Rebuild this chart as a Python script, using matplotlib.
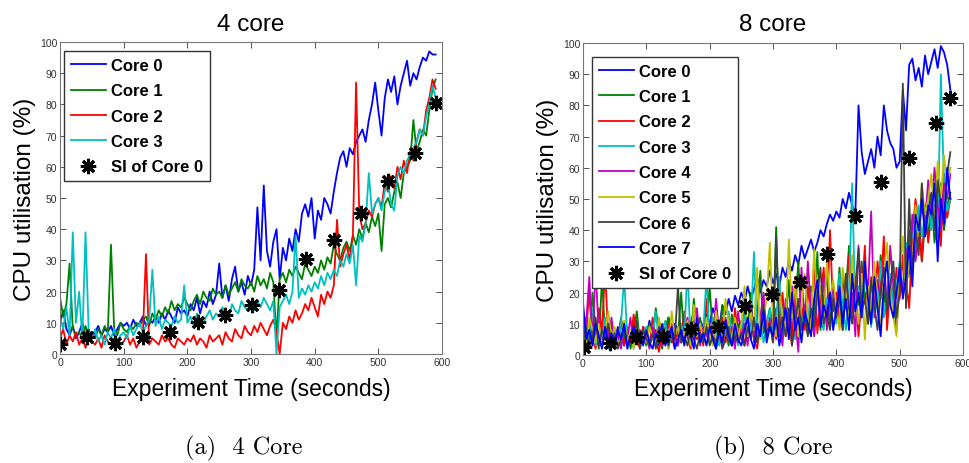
import matplotlib
matplotlib.use("Agg")
import matplotlib.pyplot as plt
import numpy as np

# sample times (s)
t4 = np.arange(0, 595, 5)
t8 = np.arange(0, 585, 5)

# ---- 4 core run: CPU utilisation (%) per core ----
core4_0 = [10, 14, 8, 6, 9, 5, 7, 10, 6, 8,
           5, 7, 9, 6, 8, 7, 9, 6, 8, 10,
           9, 10, 8, 11, 9, 10, 12, 9, 11, 10,
           12, 10, 13, 11, 14, 12, 10, 15, 13, 14,
           12, 16, 14, 18, 13, 17, 15, 20, 16, 19,
           29, 18, 22, 17, 24, 28, 20, 23, 19, 25,
           22, 27, 47, 30, 54, 33, 28, 36, 40, 24,
           34, 30, 37, 33, 40, 36, 45, 48, 44, 50,
           37, 46, 43, 50, 48, 45, 52, 58, 63, 65,
           60, 66, 64, 68, 70, 72, 68, 75, 80, 87,
           78, 70, 82, 88, 84, 89, 80, 86, 90, 94,
           86, 90, 88, 92, 95, 94, 97, 96, 96]
core4_1 = [18, 12, 16, 29, 8, 6, 7, 5, 9, 6,
           7, 5, 8, 6, 9, 7, 35, 8, 6, 10,
           8, 7, 9, 8, 10, 9, 11, 12, 9, 13,
           11, 14, 12, 15, 13, 17, 14, 16, 15, 18,
           16, 14, 17, 19, 16, 20, 18, 17, 21, 19,
           20, 18, 22, 19, 21, 23, 20, 24, 22, 21,
           23, 20, 25, 22, 24, 21, 26, 23, 5, 24,
           26, 23, 27, 25, 28, 26, 24, 29, 27, 25,
           28, 26, 30, 27, 31, 29, 35, 32, 30, 34,
           36, 33, 38, 35, 40, 37, 42, 39, 44, 41,
           45, 33, 48, 50, 47, 52, 55, 50, 58, 60,
           62, 75, 65, 68, 72, 70, 78, 85, 88]
core4_2 = [5, 8, 3, 6, 4, 7, 3, 5, 2, 6,
           4, 3, 5, 2, 6, 4, 3, 5, 4, 3,
           4, 6, 3, 5, 2, 4, 6, 32, 3, 5,
           4, 3, 6, 4, 5, 3, 2, 5, 4, 3,
           5, 4, 6, 3, 5, 4, 2, 6, 4, 5,
           6, 3, 7, 5, 4, 8, 6, 5, 9, 7,
           6, 9, 7, 10, 8, 6, 9, 11, 7, 0,
           10, 8, 12, 10, 14, 11, 13, 16, 14, 18,
           15, 12, 19, 16, 20, 18, 22, 43, 28, 32,
           35, 30, 38, 87, 45, 40, 42, 46, 44, 48,
           50, 47, 55, 52, 57, 53, 60, 56, 62, 58,
           65, 62, 68, 72, 70, 78, 82, 88, 85]
core4_3 = [12, 8, 15, 6, 39, 10, 20, 5, 39, 7,
           5, 8, 4, 6, 3, 7, 5, 8, 4, 6,
           7, 5, 9, 6, 8, 10, 7, 9, 11, 27,
           9, 12, 8, 11, 10, 9, 12, 10, 11, 22,
           10, 12, 9, 13, 11, 10, 12, 14, 11, 13,
           12, 15, 13, 11, 16, 14, 13, 17, 15, 14,
           16, 14, 17, 15, 18, 16, 14, 17, 0, 15,
           17, 19, 16, 20, 38, 18, 21, 19, 22, 20,
           23, 21, 25, 22, 26, 24, 27, 25, 30, 28,
           32, 29, 35, 22, 38, 36, 42, 58, 45, 48,
           50, 46, 52, 55, 48, 46, 57, 60, 58, 62,
           64, 66, 68, 72, 70, 76, 80, 86, 82]
si4_t = [0, 43, 87, 130, 173, 216, 259, 301, 344, 387, 430, 472, 515, 557, 590]
si4_v = [3.2, 5.6, 3.5, 5.6, 7, 10.4, 12.5, 15.7, 20.5, 30.5, 36.4, 45.1, 55.3, 64.4, 80.4]

# ---- 8 core run ----
core8_0 = [15, 6, 9, 4, 8, 3, 7, 10, 5, 8,
           4, 9, 6, 3, 8, 5, 10, 7, 4, 9,
           6, 11, 5, 8, 3, 9, 7, 12, 6, 10,
           8, 4, 12, 7, 10, 14, 6, 11, 9, 13,
           10, 15, 12, 8, 16, 13, 18, 14, 19, 16,
           20, 17, 22, 18, 21, 25, 20, 24, 22, 27,
           23, 26, 22, 28, 25, 30, 27, 32, 29, 35,
           31, 34, 37, 33, 36, 40, 38, 42, 45, 43,
           46, 44, 50, 47, 52, 48, 45, 80, 65, 58,
           62, 66, 60, 70, 64, 80, 72, 68, 66, 60,
           62, 85, 72, 93, 95, 88, 92, 86, 96, 90,
           94, 98, 92, 99, 97, 93, 85]
core8_1 = [5, 12, 3, 20, 8, 2, 25, 6, 10, 4,
           8, 3, 12, 5, 9, 2, 7, 14, 4, 6,
           3, 10, 5, 15, 7, 2, 9, 12, 4, 8,
           6, 20, 4, 10, 3, 18, 7, 12, 5, 9,
           22, 6, 11, 4, 16, 8, 3, 13, 6, 10,
           5, 14, 8, 20, 4, 12, 27, 7, 10, 15,
           8, 41, 6, 18, 10, 24, 5, 14, 30, 9,
           16, 7, 22, 12, 33, 8, 18, 26, 10, 20,
           14, 28, 9, 20, 35, 12, 25, 16, 30, 18,
           22, 10, 28, 15, 32, 20, 12, 25, 18, 8,
           24, 30, 19, 40, 28, 35, 45, 30, 42, 38,
           50, 36, 45, 55, 40, 48, 52]
core8_2 = [3, 8, 20, 5, 2, 15, 7, 28, 4, 10,
           2, 6, 11, 3, 8, 4, 13, 5, 2, 9,
           7, 3, 12, 5, 1, 8, 4, 10, 6, 2,
           9, 4, 14, 6, 2, 11, 5, 8, 3, 18,
           5, 10, 2, 7, 12, 4, 9, 3, 15, 6,
           11, 3, 8, 14, 5, 2, 10, 18, 6, 12,
           4, 15, 9, 20, 6, 12, 3, 25, 10, 16,
           8, 22, 12, 30, 7, 18, 28, 10, 40, 14,
           20, 9, 26, 15, 32, 12, 22, 6, 18, 35,
           10, 25, 14, 30, 20, 38, 8, 22, 16, 28,
           18, 32, 24, 15, 38, 50, 42, 30, 48, 36,
           45, 40, 52, 35, 58, 44, 50]
core8_3 = [10, 4, 7, 15, 3, 9, 5, 12, 2, 8,
           6, 3, 10, 25, 5, 8, 2, 11, 4, 7,
           9, 3, 6, 14, 4, 8, 11, 2, 7, 5,
           3, 10, 6, 28, 4, 9, 13, 5, 8, 25,
           4, 12, 7, 3, 10, 6, 14, 5, 9, 3,
           8, 13, 5, 10, 33, 6, 12, 4, 9, 15,
           7, 11, 25, 6, 14, 9, 18, 5, 12, 8,
           15, 10, 20, 6, 24, 12, 8, 18, 14, 22,
           10, 26, 16, 8, 20, 55, 14, 22, 12, 28,
           18, 9, 24, 14, 30, 12, 20, 26, 16, 22,
           30, 20, 36, 25, 42, 32, 48, 38, 45, 52,
           40, 48, 38, 90, 55, 46, 50]
core8_4 = [2, 10, 25, 4, 28, 6, 3, 9, 5, 12,
           4, 7, 2, 9, 5, 12, 3, 6, 8, 4,
           6, 2, 9, 5, 11, 3, 7, 4, 10, 6,
           3, 8, 5, 12, 4, 7, 15, 3, 9, 6,
           10, 4, 18, 7, 3, 12, 6, 9, 2, 14,
           5, 10, 3, 16, 8, 4, 12, 20, 6, 9,
           14, 5, 10, 3, 18, 8, 22, 12, 1, 28,
           10, 30, 14, 6, 20, 12, 25, 8, 16, 22,
           12, 18, 8, 24, 14, 20, 6, 35, 16, 28,
           20, 46, 12, 24, 18, 30, 14, 35, 22, 10,
           28, 20, 34, 26, 45, 30, 38, 50, 42, 56,
           46, 60, 48, 40, 55, 50, 58]
core8_5 = [6, 3, 12, 8, 4, 10, 2, 7, 14, 5,
           9, 3, 6, 11, 4, 8, 2, 10, 5, 7,
           4, 9, 6, 3, 12, 5, 8, 2, 14, 6,
           9, 4, 7, 11, 3, 16, 6, 10, 5, 12,
           7, 3, 14, 8, 5, 18, 10, 4, 12, 6,
           10, 22, 6, 14, 8, 28, 5, 12, 18, 36,
           10, 6, 20, 13, 8, 37, 12, 24, 6, 16,
           26, 12, 8, 34, 16, 22, 10, 30, 18, 24,
           16, 8, 28, 20, 12, 32, 18, 10, 26, 5,
           22, 14, 30, 18, 8, 26, 36, 20, 12, 6,
           26, 38, 18, 32, 28, 48, 38, 55, 45, 50,
           58, 42, 62, 50, 64, 54, 60]
core8_6 = [4, 9, 2, 6, 12, 3, 8, 5, 10, 3,
           7, 2, 5, 9, 3, 6, 4, 11, 2, 8,
           5, 3, 7, 2, 9, 4, 6, 3, 8, 5,
           22, 4, 6, 3, 8, 5, 2, 7, 4, 9,
           3, 6, 4, 8, 2, 5, 9, 3, 6, 4,
           7, 3, 9, 5, 12, 4, 8, 16, 6, 10,
           4, 38, 8, 12, 6, 15, 3, 10, 18, 8,
           12, 6, 15, 9, 20, 28, 10, 14, 8, 18,
           12, 20, 8, 26, 15, 10, 22, 34, 14, 18,
           10, 24, 16, 8, 20, 28, 14, 22, 30, 12,
           20, 87, 15, 50, 26, 40, 32, 55, 38, 45,
           52, 40, 56, 48, 44, 58, 65]
core8_7 = [17, 5, 8, 3, 10, 6, 2, 9, 4, 7,
           3, 8, 5, 10, 2, 6, 9, 4, 7, 3,
           8, 4, 2, 7, 5, 10, 3, 6, 9, 2,
           5, 8, 3, 10, 6, 2, 12, 4, 7, 3,
           9, 5, 2, 8, 4, 11, 6, 3, 10, 5,
           3, 8, 12, 5, 2, 10, 6, 14, 4, 9,
           6, 12, 3, 9, 15, 5, 20, 8, 12, 4,
           14, 10, 6, 18, 24, 9, 16, 12, 20, 8,
           15, 22, 10, 18, 8, 26, 14, 20, 12, 30,
           18, 10, 25, 15, 6, 22, 30, 16, 12, 20,
           28, 18, 25, 35, 22, 45, 40, 50, 38, 48,
           45, 55, 30, 50, 42, 60, 50]
si8_t = [1, 42, 84, 127, 170, 213, 256, 299, 342, 386, 429, 471, 514, 557, 579]
si8_v = [2.5, 3.7, 5.9, 6.2, 8.3, 9.1, 15.8, 19.4, 23.3, 32.4, 44.4, 55.4, 63.2, 74.3, 82.4]

cols4 = ['#0000ff', '#008000', '#ff0000', '#00bfbf']
cols8 = ['#0000ff', '#008000', '#ff0000', '#00bfbf',
         '#bf00bf', '#bfbf00', '#404040', '#0000ff']

plt.rcParams['font.family'] = ['Liberation Sans', 'DejaVu Sans']

fig = plt.figure(figsize=(9.7, 4.64), dpi=100)
ax1 = fig.add_axes([0.0619, 0.2349, 0.3938, 0.6724])
ax2 = fig.add_axes([0.6010, 0.2328, 0.3918, 0.6724])

asterisk = (8, 2, 0)


def draw(ax, t, series, colors, si_t, si_v, title, leg_off):
    for i, (y, c) in enumerate(zip(series, colors)):
        ax.plot(t, y, color=c, lw=1.3, label='Core %d' % i)
    ax.plot(si_t, si_v, ls='none', marker=asterisk, ms=11, mew=2.2,
            color='black', label='SI of Core 0')
    ax.set_xlim(0, 600)
    ax.set_ylim(0, 100)
    ax.set_xticks(range(0, 601, 100))
    ax.set_yticks(range(0, 101, 10))
    ax.tick_params(direction='in', top=True, right=True, labelsize=7.5,
                   length=4, width=0.7, colors='#555555', labelcolor='#333333', pad=2)
    for s in ax.spines.values():
        s.set_color('#777777')
        s.set_linewidth(0.8)
    ax.set_title(title, fontsize=17.5, pad=9)
    ax.set_xlabel('Experiment Time (seconds)', fontsize=16.5, labelpad=7)
    ax.set_ylabel('CPU utilisation (%)', fontsize=17.5, labelpad=3)
    ax.legend(loc='upper left', bbox_to_anchor=leg_off, frameon=True, fancybox=False,
              edgecolor='#333333', framealpha=1, borderaxespad=0,
              prop={'weight': 'bold', 'size': 12}, handlelength=2.1,
              labelspacing=0.62, borderpad=0.4, handletextpad=0.3)


draw(ax1, t4, [core4_0, core4_1, core4_2, core4_3], cols4, si4_t, si4_v,
     '4 core', (0.011, 0.97))
draw(ax2, t8, [core8_0, core8_1, core8_2, core8_3, core8_4, core8_5, core8_6, core8_7],
     cols8, si8_t, si8_v, '8 core', (0.024, 0.955))

fig.text(0.251, 0.006, '(a)  4 Core', fontsize=17.5, family='cmr10', ha='center', va='bottom')
fig.text(0.797, 0.006, '(b)  8 Core', fontsize=17.5, family='cmr10', ha='center', va='bottom')

fig.savefig('out.png', dpi=100)
